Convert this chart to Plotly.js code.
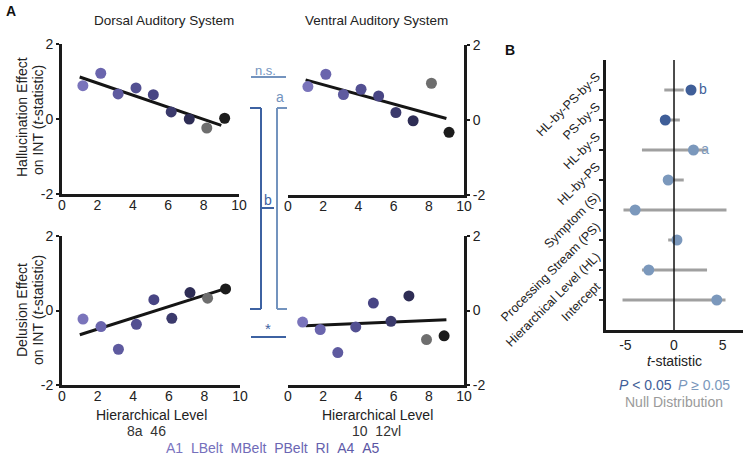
<!DOCTYPE html>
<html>
<head>
<meta charset="utf-8">
<script src="https://cdn.plot.ly/plotly-3.0.1.min.js"></script>
<style>html,body{margin:0;padding:0;background:#fff}#chart{width:745px;height:456px}</style>
</head>
<body>
<div id="chart"></div>
<script>
// ---------- Panel A data ----------
const pointColors = ['#7a74bb', '#6a65ad', '#5e5a9f', '#535092', '#484584', '#3b3a6c', '#2e2d55', '#6e6e6e', '#1c1c1c'];
const dorsalX   = [1.18, 2.19, 3.17, 4.18, 5.16, 6.17, 7.19, 8.18, 9.19];
const dorsalHall = [0.89, 1.22, 0.67, 0.83, 0.65, 0.19, 0.00, -0.24, 0.02];
const dorsalDel  = [-0.23, -0.43, -1.04, -0.37, 0.29, -0.21, 0.48, 0.33, 0.58];
const ventralHallX = [1.13, 2.15, 3.15, 4.15, 5.15, 6.13, 7.11, 8.15, 9.15];
const ventralHall  = [0.89, 1.22, 0.68, 0.82, 0.64, 0.20, -0.02, 0.98, -0.33];
const ventralDelX  = [0.83, 1.83, 2.83, 3.85, 4.85, 5.85, 6.87, 7.87, 8.87];
const ventralDel   = [-0.31, -0.51, -1.13, -0.44, 0.20, -0.29, 0.39, -0.78, -0.68];
const fitX = [1, 9];
const fitDorsalHall  = [1.12, -0.17];
const fitVentralHall = [1.07, 0.04];
const fitDorsalDel   = [-0.65, 0.56];
const fitVentralDel  = [-0.41, -0.25];

const dorsalRegions = ['8a', '46'];
const ventralRegions = ['10', '12vl'];
const sharedRegions = ['A1', 'LBelt', 'MBelt', 'PBelt', 'RI', 'A4', 'A5'];
const sharedRegionColors = ['#7a74c0', '#7570bc', '#706bb8', '#6b66b3', '#6661ae', '#605ba9', '#5a55a3'];

// ---------- Panel B data ----------
const terms = ['Intercept', 'Hierarchical Level (HL)', 'Processing Stream (PS)', 'Symptom (S)', 'HL-by-PS', 'HL-by-S', 'PS-by-S', 'HL-by-PS-by-S'];
const termT     = [4.4, -2.6, 0.3, -4.0, -0.6, 2.0, -0.9, 1.75];
const termSig   = [false, false, false, false, false, false, true, true];
const nullLo    = [-5.3, -3.3, -0.6, -5.2, -0.6, -3.3, -0.9, -1.0];
const nullHi    = [5.3, 3.4, 0.5, 5.4, 1.0, 3.4, 0.6, 1.0];
const termMarks = ['', '', '', '', '', 'a', '', 'b'];

const W = 745, H = 456;
const px = x => x / W;
const py = y => 1 - y / H;
const FONT = 'Liberation Sans, Arial, sans-serif';
const DARK = '#3f5e98', LIGHT = '#7b98bc', GRAY = '#a0a0a0';

const traces = [];
function panel(xs, ys, fit, xa, ya) {
  traces.push({x: fitX, y: fit, xaxis: xa, yaxis: ya, mode: 'lines', line: {color: '#151515', width: 3}, hoverinfo: 'skip', showlegend: false});
  traces.push({x: xs, y: ys, xaxis: xa, yaxis: ya, mode: 'markers', marker: {color: pointColors, size: 11, line: {width: 0}}, showlegend: false});
}
panel(dorsalX, dorsalHall, fitDorsalHall, 'x', 'y');
panel(ventralHallX, ventralHall, fitVentralHall, 'x2', 'y2');
panel(dorsalX, dorsalDel, fitDorsalDel, 'x3', 'y3');
panel(ventralDelX, ventralDel, fitVentralDel, 'x4', 'y4');

// panel B null distributions
const yIdx = terms.map((_, i) => i + 1);
terms.forEach((t, i) => {
  traces.push({x: [nullLo[i], nullHi[i]], y: [yIdx[i], yIdx[i]], xaxis: 'x5', yaxis: 'y5', mode: 'lines', line: {color: GRAY, width: 3}, hoverinfo: 'skip', showlegend: false});
});
traces.push({x: termT, y: yIdx, xaxis: 'x5', yaxis: 'y5', mode: 'markers+text',
  marker: {size: 11, color: termSig.map(s => s ? DARK : LIGHT)},
  text: termMarks, textposition: 'middle right',
  textfont: {family: FONT, size: 14, color: termSig.map(s => s ? DARK : LIGHT)},
  showlegend: false});

const axBase = {showline: true, linewidth: 3, linecolor: '#1a1a1a', showgrid: false, zeroline: false,
  ticks: 'outside', ticklen: 3, tickwidth: 2, tickcolor: '#1a1a1a',
  tickfont: {family: FONT, size: 14, color: '#222'}};
const xTicks = {tickvals: [0, 2, 4, 6, 8, 10], range: [0, 10], ticks: '', ticklabelstandoff: -4};
const yTicks = {tickvals: [-2, 0, 2], ticktext: ['-2', '0', '2'], range: [-2, 2]};

const layout = {
  width: W, height: H, margin: {l: 0, r: 0, t: 0, b: 0},
  paper_bgcolor: '#fff', plot_bgcolor: 'rgba(0,0,0,0)',
  font: {family: FONT, color: '#222'},
  showlegend: false,
  xaxis:  Object.assign({}, axBase, xTicks, {domain: [px(62), px(239)], anchor: 'y'}),
  yaxis:  Object.assign({}, axBase, yTicks, {domain: [py(194), py(44)], anchor: 'x'}),
  xaxis2: Object.assign({}, axBase, xTicks, {domain: [px(288), px(464)], anchor: 'y2'}),
  yaxis2: Object.assign({}, axBase, yTicks, {domain: [py(195), py(45)], anchor: 'x2', side: 'right'}),
  xaxis3: Object.assign({}, axBase, xTicks, {domain: [px(62), px(240)], anchor: 'y3'}),
  yaxis3: Object.assign({}, axBase, yTicks, {domain: [py(385), py(236)], anchor: 'x3'}),
  xaxis4: Object.assign({}, axBase, xTicks, {domain: [px(288), px(464)], anchor: 'y4'}),
  yaxis4: Object.assign({}, axBase, yTicks, {domain: [py(385), py(236)], anchor: 'x4', side: 'right'}),
  xaxis5: Object.assign({}, axBase, {domain: [px(606), px(743)], anchor: 'y5', range: [-7, 7.1],
    tickvals: [-5, 0, 5], ticktext: ['-5', '0', '5'], ticks: '',
    title: {text: '<i>t</i>-statistic', font: {family: FONT, size: 14, color: '#222'}, standoff: 4}}),
  yaxis5: Object.assign({}, axBase, {domain: [py(330), py(60)], anchor: 'x5', range: [0, 9],
    tickvals: yIdx, ticktext: terms, tickangle: -45, ticklen: 4, ticklabelshift: -15,
    tickfont: {family: FONT, size: 12.5, color: '#222'}}),
  shapes: [],
  annotations: []
};

// zero line in panel B
layout.shapes.push({type: 'line', xref: 'x5', yref: 'y5', x0: 0, x1: 0, y0: 0, y1: 9, line: {color: '#111', width: 1.5}});

// significance brackets (panel A, between columns)
function seg(x0, y0, x1, y1, color) {
  layout.shapes.push({type: 'line', xref: 'paper', yref: 'paper', x0: px(x0), y0: py(y0), x1: px(x1), y1: py(y1), line: {color: color, width: 2}});
}
const BR_DARK = '#3d62a2', BR_LIGHT = '#7393be';
seg(251, 77, 286, 77, BR_LIGHT);           // n.s.
seg(250, 108, 261, 108, BR_DARK);          // left bracket
seg(261, 108, 261, 309, BR_DARK);
seg(250, 309, 261, 309, BR_DARK);
seg(261, 208, 274, 208, BR_DARK);          // b tick
seg(277, 108, 287, 108, BR_LIGHT);         // right bracket
seg(277, 108, 277, 309, BR_LIGHT);
seg(277, 309, 287, 309, BR_LIGHT);
seg(251, 337, 286, 337, BR_DARK);          // *

function ann(text, x, y, opts) {
  layout.annotations.push(Object.assign({text: text, xref: 'paper', yref: 'paper', x: px(x), y: py(y),
    showarrow: false, xanchor: 'center', yanchor: 'middle',
    font: {family: FONT, size: 14, color: '#222'}}, opts || {}));
}
ann('n.s.', 265, 70, {font: {family: FONT, size: 13, color: BR_LIGHT}});
ann('a', 280, 97, {font: {family: FONT, size: 14, color: BR_LIGHT}});
ann('b', 268, 200, {font: {family: FONT, size: 14, color: BR_DARK}});
ann('*', 268, 328, {font: {family: FONT, size: 15, color: BR_DARK}});

ann('<b>A</b>', 11, 11, {font: {family: FONT, size: 14, color: '#111'}});
ann('<b>B</b>', 510, 50, {font: {family: FONT, size: 14, color: '#111'}});
ann('Dorsal Auditory System', 164, 21, {font: {family: FONT, size: 13.5, color: '#222'}});
ann('Ventral Auditory System', 376, 21, {font: {family: FONT, size: 13.5, color: '#222'}});
ann('Hallucination Effect', 22, 117, {textangle: -90, font: {family: FONT, size: 14, color: '#222'}});
ann('on INT (<i>t</i>-statistic)', 38, 120, {textangle: -90, font: {family: FONT, size: 14, color: '#222'}});
ann('Delusion Effect', 22, 310, {textangle: -90, font: {family: FONT, size: 14, color: '#222'}});
ann('on INT (<i>t</i>-statistic)', 38, 310, {textangle: -90, font: {family: FONT, size: 14, color: '#222'}});

ann('Hierarchical Level', 151, 415, {font: {family: FONT, size: 14, color: '#222'}});
ann('Hierarchical Level', 377, 415, {font: {family: FONT, size: 14, color: '#222'}});
ann(dorsalRegions.join('&nbsp;&nbsp;'), 146, 431, {font: {family: FONT, size: 14, color: '#333'}});
ann(ventralRegions.join('&nbsp;&nbsp;'), 376, 431, {font: {family: FONT, size: 14, color: '#333'}});
ann(sharedRegions.map((r, i) => '<span style="color:' + sharedRegionColors[i] + '">' + r + '</span>').join('&nbsp;&nbsp;'), 272, 448,
  {font: {family: FONT, size: 14, color: '#6a65b0'}});

ann('<i>P</i> &lt; 0.05', 645, 385, {font: {family: FONT, size: 14, color: DARK}});
ann('<i>P</i> ≥ 0.05', 704, 385, {font: {family: FONT, size: 14, color: LIGHT}});
ann('Null Distribution', 674, 402, {font: {family: FONT, size: 14, color: '#9a9a9a'}});

Plotly.newPlot('chart', traces, layout, {displayModeBar: false, staticPlot: true});
</script>
</body>
</html>
